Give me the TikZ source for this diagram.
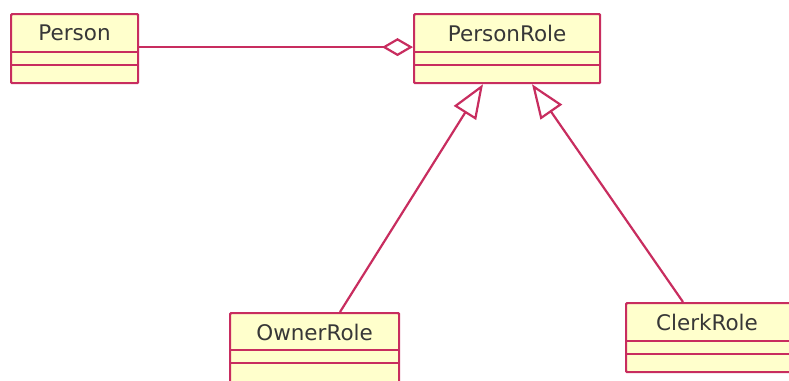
\documentclass[tikz,border=0pt]{standalone}
\usepackage{fontspec}
\setmainfont{DejaVu Sans}
\usetikzlibrary{arrows.meta,calc}
\definecolor{umlline}{RGB}{200,45,95}
\definecolor{umlfill}{RGB}{255,255,204}
\definecolor{umltext}{RGB}{55,55,55}
\begin{document}
\begin{tikzpicture}[x=1pt,y=-1pt,line width=2.2pt,
  classbox/.style={draw=umlline,fill=umlfill,rectangle,rounded corners=1pt,inner sep=0pt,anchor=north west},
  classname/.style={text=umltext,font=\fontsize{21.5}{25}\selectfont,inner sep=0pt},
  divider/.style={draw=umlline,line width=2.2pt},
  assoc/.style={draw=umlline,-{Diamond[open,length=31pt,width=18pt,fill=white]}},
  gen/.style={draw=umlline,-{Triangle[open,length=34pt,width=26pt,fill=white]}}]
\useasboundingbox (0,0) rectangle (789,380);
\clip (0,0) rectangle (789,380);
% classes
\node[classbox,minimum width=127pt,minimum height=69pt] (person) at (10,13) {};
\node[classbox,minimum width=186pt,minimum height=69pt] (prole) at (413,13) {};
\node[classbox,minimum width=169pt,minimum height=75pt] (owner) at (229,312) {};
\node[classbox,minimum width=170pt,minimum height=69pt] (clerk) at (625,302) {};
% dividers
\foreach \n/\a/\b in {person/39/52,prole/39/52,owner/38/51,clerk/39/52}{
  \draw[divider] ($(\n.north west)+(0,\a)$) -- ($(\n.north east)+(0,\a)$);
  \draw[divider] ($(\n.north west)+(0,\b)$) -- ($(\n.north east)+(0,\b)$);
}
% names
\node[classname] (tperson) at ($(person.north)+(0,20)$) {Person};
\node[classname] (tprole) at ($(prole.north)+(0,20)$) {PersonRole};
\node[classname] (towner) at ($(owner.north)+(0,20)$) {OwnerRole};
\node[classname] (tclerk) at ($(clerk.north west)+(82,20)$) {ClerkRole};
% connectors
\draw[assoc] ($(person.east)+(0,-1.5)$) -- ($(prole.west)+(0,-1.5)$);
\draw[gen] ($(owner.north west)+(111,0)$) -- ($(prole.south west)+(70,0)$);
\draw[gen] ($(clerk.north west)+(58,0)$) -- ($(prole.south west)+(119,0)$);
\end{tikzpicture}
\end{document}
